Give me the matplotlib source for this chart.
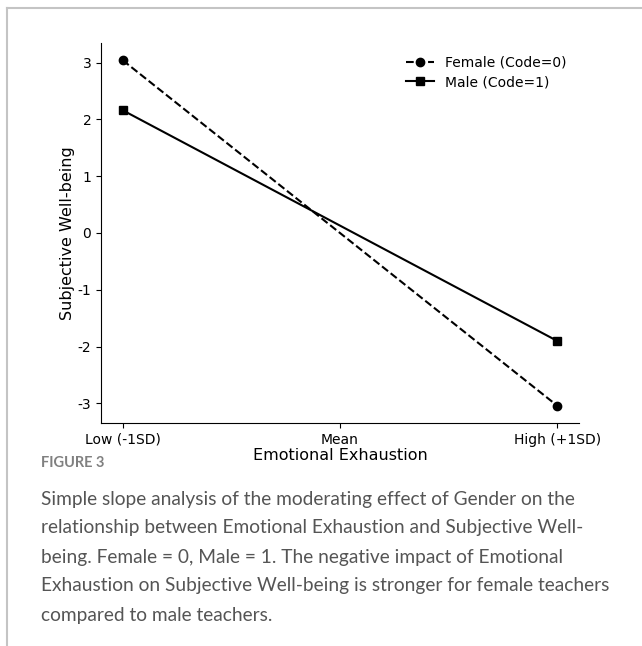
import matplotlib
matplotlib.use("Agg")
import matplotlib.pyplot as plt
from matplotlib.lines import Line2D

plt.rcParams["axes.unicode_minus"] = False

levels = ["Low (-1SD)", "Mean", "High (+1SD)"]
x_pos = [0, 2]
female = [3.04, -3.04]
male = [2.16, -1.90]
yticks = [-3, -2, -1, 0, 1, 2, 3]

W, H = 642, 646
dpi = 100
fig = plt.figure(figsize=(W / dpi, H / dpi), dpi=dpi)
fig.patch.set_facecolor("white")

ax = fig.add_axes([101 / W, 1 - 423 / H, (579 - 101) / W, (423 - 43) / H])
ax.plot(x_pos, female, color="black", linestyle="--", marker="o", markersize=6,
        linewidth=1.5, label="Female (Code=0)")
ax.plot(x_pos, male, color="black", linestyle="-", marker="s", markersize=6,
        linewidth=1.5, label="Male (Code=1)")
ax.set_xticks([0, 1, 2])
ax.set_xticklabels(levels)
ax.set_yticks(yticks)
ax.set_xlabel("Emotional Exhaustion", fontsize=11.5, labelpad=1)
ax.set_ylabel("Subjective Well-being", fontsize=11.5, labelpad=2)
ax.tick_params(labelsize=10)
for s in ["top", "right"]:
    ax.spines[s].set_visible(False)
ax.legend(frameon=False, fontsize=10, loc="upper right", bbox_to_anchor=(1.0, 1.0),
          labelspacing=0.4)

# border
border = "#c4c4c4"
fig.add_artist(Line2D([7 / W, 1], [1 - 8 / H, 1 - 8 / H], color=border, linewidth=1.5,
                      transform=fig.transFigure))
fig.add_artist(Line2D([7 / W, 7 / W], [0, 1 - 8 / H], color=border, linewidth=1.5,
                      transform=fig.transFigure))

fig.text(41 / W, 1 - 463 / H, "FIGURE 3", fontsize=10.5, fontweight="bold",
         color="#808080", family="Lato", va="center", ha="left")
caption_lines = ["Simple slope analysis of the moderating effect of Gender on the",
                 "relationship between Emotional Exhaustion and Subjective Well-",
                 "being. Female = 0, Male = 1. The negative impact of Emotional",
                 "Exhaustion on Subjective Well-being is stronger for female teachers",
                 "compared to male teachers."]
for i, line in enumerate(caption_lines):
    fig.text(41 / W, 1 - (499 + 29 * i) / H, line, fontsize=13.8, color="#555555",
             family="Lato", va="center", ha="left")

fig.savefig("out.png", dpi=dpi)
